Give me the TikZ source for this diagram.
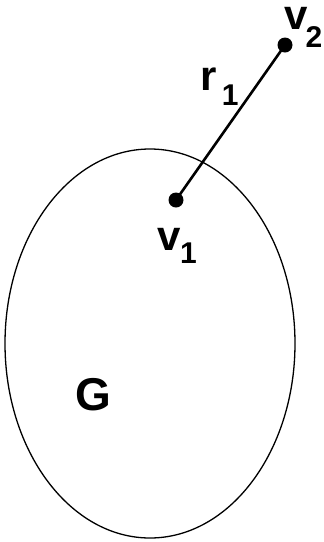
\documentclass[tikz,border=0pt]{standalone}
\usepackage{fontspec}
\setmainfont{Liberation Sans}
\newcommand\mysubsz{\fontsize{30}{30}\selectfont}
\begin{document}
\begin{tikzpicture}[x=1pt,y=-1pt,
  dotnode/.style={circle,fill=black,inner sep=0pt,minimum size=15pt},
  lbl/.style={inner sep=0pt,anchor=base west,font=\bfseries\fontsize{42}{42}\selectfont},
  edgeline/.style={line width=2.6pt},
  region/.style={line width=1.3pt}]
\useasboundingbox (0,0) rectangle (324,542);
\draw[region] (150,343.5) ellipse [x radius=145pt, y radius=194.5pt];
\node[dotnode] (v1) at (176,200) {};
\node[dotnode] (v2) at (285,45) {};
\draw[edgeline] (v1.center) -- (v2.center);
\node[lbl] (v1l) at (157.5,250) {v\kern-1pt\raisebox{-13pt}{\mysubsz 1}};
\node[lbl] (v2l) at (284.5,29) {v\kern-2.5pt\raisebox{-18pt}{\mysubsz 2}};
\node[lbl] (r1l) at (200.3,90) {r\kern5pt\raisebox{-15pt}{\mysubsz 1}};
\node[lbl,font=\bfseries\fontsize{46}{46}\selectfont] (gl) at (75,410) {G};
\end{tikzpicture}
\end{document}
